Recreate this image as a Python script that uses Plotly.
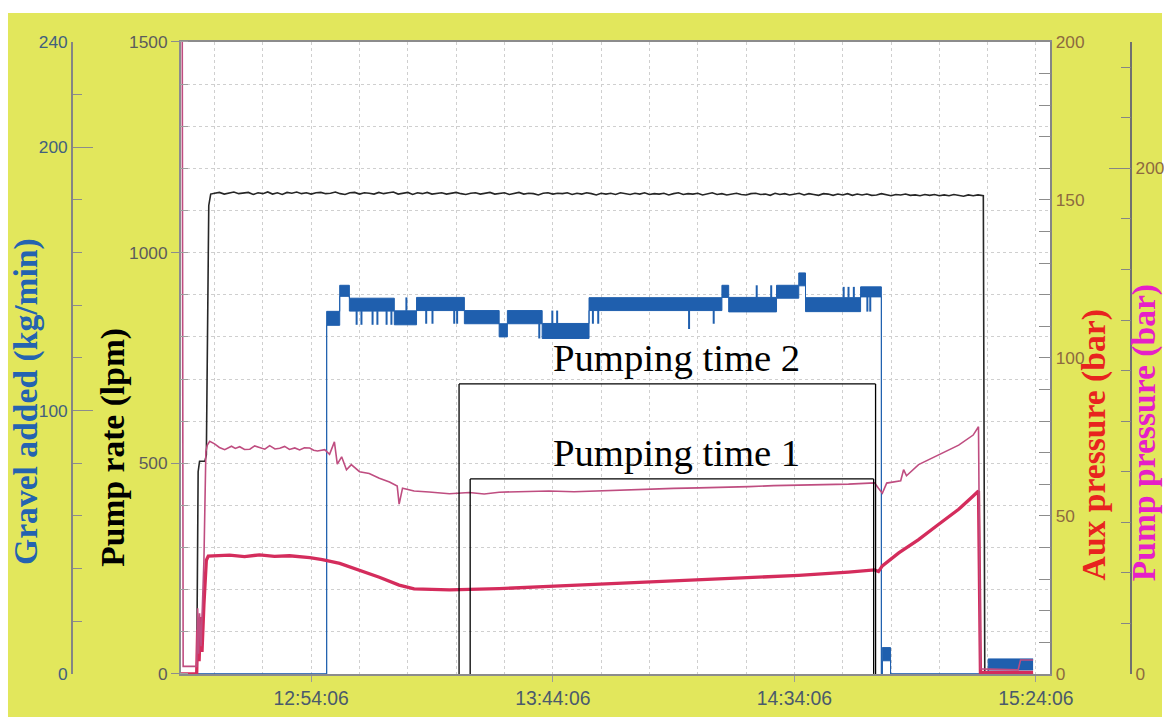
import pandas as pd
import plotly.graph_objects as go

# Clock time at the left edge of the time axis; all series times are minutes after it.
T0 = pd.Timestamp("2021-06-15 12:27:06")
SPAN_MIN = 180

# ---- Pump rate (lpm) ----
rate_t = [0, 3.3, 3.6, 3.9, 5.0, 5.3, 5.8, 6.2] + list(range(7, 166)) + [166.1, 166.4, 176.4]
rate_v = [0, 0, 480, 505, 505, 520, 1112, 1139,
          1141, 1143, 1139, 1142, 1144, 1140, 1141, 1143, 1138, 1142,
          1140, 1144, 1139, 1142, 1138, 1143, 1141, 1144, 1140, 1142,
          1139, 1142, 1143, 1140, 1141, 1144, 1140, 1138, 1142, 1143,
          1139, 1142, 1141, 1139, 1143, 1140, 1142, 1144, 1139, 1141,
          1143, 1138, 1142, 1140, 1143, 1139, 1141, 1142, 1139, 1141,
          1143, 1140, 1138, 1141, 1142, 1139, 1141, 1143, 1139, 1140,
          1142, 1138, 1141, 1143, 1139, 1141, 1140, 1137, 1141, 1142,
          1139, 1141, 1140, 1142, 1138, 1141, 1139, 1142, 1140, 1137,
          1141, 1139, 1141, 1138, 1142, 1140, 1138, 1141, 1139, 1142,
          1138, 1140, 1139, 1141, 1137, 1140, 1142, 1138, 1140, 1139,
          1141, 1137, 1140, 1142, 1138, 1140, 1137, 1139, 1141, 1138,
          1137, 1140, 1141, 1138, 1139, 1136, 1141, 1138, 1140, 1137,
          1139, 1141, 1137, 1140, 1138, 1136, 1140, 1139, 1136, 1139,
          1137, 1140, 1136, 1139, 1137, 1139, 1136, 1137, 1140, 1137,
          1135, 1138, 1137, 1139, 1136, 1137, 1135, 1138, 1136, 1138,
          1135, 1137, 1135, 1138, 1136, 1134, 1137, 1135, 1137,
          1135, 0, 0]

# ---- Gravel added (kg/min): step signal toggling between two levels ----
gravel_t = [0, 30.2, 32.9, 34.9, 44.2, 48.8, 58.7, 65.9, 67.6, 74.8, 84.5, 112.0,
            113.4, 123.3, 127.9, 129.3, 140.7, 145.0, 145.2, 146.9, 167.1, 176.4]
gravel_hi = [0, 137.7, 147.6, 142.7, 137.9, 143.0, 138.0, 133.0, 138.0, 133.1, 142.9, 147.6,
             143.0, 147.6, 152.3, 142.9, 147.0, 0, 10.0, 0, 5.7, 5.7]
gravel_lo = [0, 132.4, 143.4, 137.8, 132.6, 138.0, 133.0, 128.0, 133.0, 127.4, 138.0, 143.0,
             137.5, 142.7, 147.4, 137.6, 143.2, 0, 5.0, 0, 1.5, 1.5]
# Brief excursions of the gravel signal to the neighbouring level
gravel_spike_t = [36.4, 37.4, 39.7, 40.7, 42.6, 43.6, 46.7, 50.8, 52.1, 56.6, 57.2,
                  74.2, 76.9, 77.9, 85.3, 86.4, 105.2, 110.3, 119.2, 122.2,
                  137.2, 138.2, 139.3, 142.1, 142.7]
gravel_spike_from = [137.8, 137.8, 137.8, 137.8, 137.8, 137.8, 137.9, 138.0, 138.0, 138.0, 138.0,
                     133.0, 133.1, 133.1, 138.0, 138.0, 138.0, 138.0, 143.0, 143.0,
                     142.9, 142.9, 142.9, 143.2, 143.2]
gravel_spike_to = [132.6, 132.6, 132.6, 132.6, 132.6, 132.6, 143.0, 133.0, 133.0, 133.0, 133.0,
                   127.4, 138.0, 138.0, 133.0, 133.0, 131.0, 133.0, 147.6, 147.6,
                   147.0, 147.0, 147.0, 137.6, 137.6]

# ---- Pump pressure (bar) ----
pump_p_t = [0, 0.3, 0.5, 3.3, 3.5, 3.7, 3.9, 4.2, 4.5, 4.8, 5.2, 5.5, 6.0, 7.0,
            8.0, 9.1, 10.5, 11.3, 12.2, 13.2, 14.3, 15.3, 16.3, 17.4, 18.4, 19.5,
            20.5, 21.5, 22.5, 23.6, 24.6, 25.6, 26.7, 27.5, 28.3, 29.8, 30.8, 31.8,
            32.4, 33.3, 34.3, 35.3, 37.0, 39.0, 41.1, 43.2, 44.8, 45.2, 45.9, 48.3,
            51.4, 55.6, 59.7, 62.8, 65.9, 71.1, 76.2, 81.4, 86.6, 91.7, 96.9, 102.0,
            107.2, 112.4, 117.6, 122.7, 127.9, 133.0, 138.2, 141.0, 143.6, 144.4,
            145.2, 146.1, 149.0, 149.6, 150.2, 152.7, 156.8, 161.0, 164.0, 165.1,
            165.5, 173.3, 173.8, 176.4]
pump_p_v = [270, 270, 3, 3, 26, 8, 24, 11, 28, 45, 88, 90.5, 92.0, 91.0,
            89.6, 88.7, 90.1, 89.2, 89.9, 88.8, 88.9, 90.2, 89.6, 88.9, 90.3, 89.0,
            89.3, 90.0, 88.8, 89.4, 88.6, 89.5, 89.4, 88.5, 88.2, 88.7, 86.9, 91.8,
            83.0, 85.9, 80.8, 82.8, 80.0, 79.3, 77.4, 75.9, 74.3, 67.2, 73.5, 72.4,
            72.0, 71.3, 71.8, 71.2, 71.9, 72.2, 72.4, 72.1, 72.5, 72.9, 73.1, 73.4,
            73.6, 73.8, 74.1, 74.5, 74.6, 74.9, 75.1, 75.4, 75.6, 73.5,
            71.5, 75.5, 76.4, 80.8, 78.4, 82.8, 86.5, 90.5, 94.5, 97.8,
            2.0, 1.6, 5.5, 5.5]

# ---- Aux pressure (bar) ----
aux_p_t = [0, 3.3, 3.5, 3.8, 4.1, 4.4, 4.8, 5.3, 5.7, 10.1, 13.2, 16.3, 19.4, 22.5,
           26.7, 29.3, 32.9, 37.0, 41.1, 45.2, 48.3, 55.6, 65.9, 76.2, 86.6, 96.9,
           107.2, 117.6, 127.9, 138.2, 143.6, 144.4, 145.2, 148.6, 152.7, 156.8,
           161.0, 164.0, 165.1, 165.5, 176.4]
aux_p_v = [0, 0, 14, 4, 18, 7, 22, 36, 37.3, 37.6, 37.1, 37.7, 37.2, 37.4,
           36.8, 36.2, 35.0, 32.8, 30.6, 28.1, 26.9, 26.6, 27.0, 27.7, 28.4, 29.1,
           29.8, 30.5, 31.2, 32.2, 32.9, 32.4, 34.2, 38.3, 42.5, 47.3,
           52.1, 56.3, 57.9, 0.5, 0.5]

# ---- Axis ticks ----
time_labels = ["12:54:06", "13:44:06", "14:34:06", "15:24:06"]
rate_ticks = [0, 500, 1000, 1500]
gravel_ticks = [0, 100, 200, 240]
aux_ticks = [0, 50, 100, 150, 200]
pump_p_ticks = [0, 200]

# ---- Marked pumping intervals (minutes after T0) ----
pumping_2 = (57.6, 143.8)
pumping_1 = (59.9, 143.4)


def clock(minutes):
    return [T0 + pd.Timedelta(minutes=float(m)) for m in minutes]


def at_time(hhmmss):
    return pd.Timestamp(f"{T0.date()} {hhmmss}")


# Layout is specified in window pixels (1164 x 727). The canvas is a little
# larger than the window and starts slightly above it, so positions are mapped
# through this small scale/offset before being handed to plotly.
WIN_W, WIN_H = 1164, 727
SCALE_X, SCALE_Y, TOP_OFFSET = 0.982, 0.973, 9
W = round(WIN_W / SCALE_X)
H = round((WIN_H - TOP_OFFSET) / SCALE_Y)
FS = 1 / SCALE_X  # font-size compensation


def px(x):
    """Window x pixel -> paper fraction."""
    return (x / SCALE_X) / W


def py(y):
    """Window y pixel -> paper fraction."""
    return 1 - ((y - TOP_OFFSET) / SCALE_Y) / H


X_DOM = [px(181), px(1052)]
Y_DOM = [py(673), py(41)]
GRID = "#cfcfcf"
YELLOW = "#e2e75c"
BLUE = "#1f5fae"

fig = go.Figure()

fig.add_trace(go.Scatter(x=clock(rate_t), y=rate_v, mode="lines", yaxis="y",
                         line=dict(color="#262626", width=1.6), name="Pump rate"))

fig.add_trace(go.Scatter(x=clock(gravel_t), y=gravel_lo, mode="lines", yaxis="y2",
                         line=dict(color=BLUE, width=1, shape="hv"), name="Gravel lo",
                         showlegend=False))
fig.add_trace(go.Scatter(x=clock(gravel_t), y=gravel_hi, mode="lines", yaxis="y2",
                         line=dict(color=BLUE, width=1, shape="hv"), fill="tonexty",
                         fillcolor=BLUE, name="Gravel added"))

spike_x, spike_y = [], []
for t, a, b in zip(gravel_spike_t, gravel_spike_from, gravel_spike_to):
    tt = clock([t])[0]
    spike_x += [tt, tt, None]
    spike_y += [a, b, None]
fig.add_trace(go.Scatter(x=spike_x, y=spike_y, mode="lines", yaxis="y2",
                         line=dict(color=BLUE, width=2), connectgaps=False,
                         name="Gravel spikes", showlegend=False))

fig.add_trace(go.Scatter(x=clock(pump_p_t), y=pump_p_v, mode="lines", yaxis="y4",
                         line=dict(color="#bf4d80", width=1.6), name="Pump pressure"))
fig.add_trace(go.Scatter(x=clock(aux_p_t), y=aux_p_v, mode="lines", yaxis="y3",
                         line=dict(color="#d42c5c", width=3.3), name="Aux pressure"))

x_range = [T0, T0 + pd.Timedelta(minutes=SPAN_MIN)]
tick_font = dict(family="Liberation Sans, Arial, sans-serif", size=17 * FS)

fig.update_layout(
    width=W, height=H,
    margin=dict(l=0, r=0, t=0, b=0),
    paper_bgcolor="white",
    plot_bgcolor="white",
    showlegend=False,
    xaxis=dict(
        domain=X_DOM, range=x_range, type="date",
        tickmode="array", tickvals=[at_time(s) for s in time_labels], ticktext=time_labels,
        tickfont=dict(tick_font, size=19 * FS, color="#4a5a6c"),
        ticks="outside", ticklen=6, tickcolor="#9a9a9a",
        showgrid=True, gridcolor=GRID, griddash="dot", gridwidth=1,
        minor=dict(dtick=600000, tick0=at_time(time_labels[0]), showgrid=True,
                   gridcolor=GRID, griddash="dot", ticks=""),
        showline=True, linecolor="#8c8c8c", linewidth=1.5, mirror=True,
        zeroline=False,
    ),
    yaxis=dict(
        domain=Y_DOM, range=[0, 1500],
        tickmode="array", tickvals=rate_ticks, ticktext=[str(v) for v in rate_ticks],
        tickfont=dict(tick_font, color="#5c5c5c"),
        ticks="outside", ticklen=8, tickcolor="#8c8c8c",
        showgrid=True, gridcolor=GRID, griddash="dot",
        minor=dict(dtick=100, showgrid=True, gridcolor=GRID, griddash="dot",
                   ticks="inside", ticklen=8, tickcolor="#a0a0a0"),
        showline=True, linecolor="#8c8c8c", linewidth=1.5,
        zeroline=False,
    ),
    yaxis2=dict(
        overlaying="y", side="left", anchor="free", position=px(72), range=[0, 240],
        tickmode="array", tickvals=gravel_ticks, ticktext=[str(v) for v in gravel_ticks],
        tickfont=dict(tick_font, color="#41607e"),
        ticks="inside", ticklen=20, tickcolor="#8c8c8c",
        minor=dict(dtick=20, ticks="inside", ticklen=9, tickcolor="#8c8c8c", showgrid=False),
        showgrid=False, zeroline=False,
        showline=True, linecolor="#858585", linewidth=1.5,
    ),
    yaxis3=dict(
        overlaying="y", side="right", anchor="x", range=[0, 200],
        tickmode="array", tickvals=aux_ticks, ticktext=[str(v) for v in aux_ticks],
        tickfont=dict(tick_font, color="#8d6a40"),
        ticks="inside", ticklen=12, tickcolor="#8c8c8c",
        minor=dict(dtick=10, ticks="inside", ticklen=12, tickcolor="#8c8c8c", showgrid=False),
        showgrid=False, zeroline=False,
        showline=True, linecolor="#858585", linewidth=1.5,
    ),
    yaxis4=dict(
        overlaying="y", side="right", anchor="free", position=px(1133), range=[0, 250],
        tickmode="array", tickvals=pump_p_ticks, ticktext=[str(v) for v in pump_p_ticks],
        tickfont=dict(tick_font, color="#8d6a40"),
        ticks="inside", ticklen=22, tickcolor="#858585",
        minor=dict(dtick=20, ticks="inside", ticklen=10, tickcolor="#858585", showgrid=False),
        showgrid=False, zeroline=False,
        showline=True, linecolor="#707070", linewidth=1.5,
    ),
)

# Yellow page behind everything
fig.add_shape(type="rect", xref="paper", yref="paper", layer="below",
              x0=px(8), x1=1.0, y0=py(716), y1=py(12),
              fillcolor=YELLOW, line=dict(width=0))
# White plotting sheet
fig.add_shape(type="rect", xref="paper", yref="paper", layer="below",
              x0=X_DOM[0], x1=X_DOM[1], y0=Y_DOM[0], y1=Y_DOM[1],
              fillcolor="white", line=dict(width=0))

# Open-bottom brackets marking the two pumping intervals
bracket_tops = {pumping_2: py(383), pumping_1: py(478)}
for (t_start, t_end), y_top in bracket_tops.items():
    xs = clock([t_start, t_end])
    line = dict(color="black", width=1.3)
    fig.add_shape(type="line", xref="x", yref="paper", x0=xs[0], x1=xs[0],
                  y0=Y_DOM[0], y1=y_top, line=line)
    fig.add_shape(type="line", xref="x", yref="paper", x0=xs[0], x1=xs[1],
                  y0=y_top, y1=y_top, line=line)
    fig.add_shape(type="line", xref="x", yref="paper", x0=xs[1], x1=xs[1],
                  y0=Y_DOM[0], y1=y_top, line=line)

serif = "Liberation Serif, Times New Roman, serif"
label_center = clock([102.5])[0]
fig.add_annotation(x=label_center, xref="x", y=py(357), yref="paper",
                   text="Pumping time 2", showarrow=False,
                   xanchor="center", yanchor="middle",
                   font=dict(family=serif, size=38 * FS, color="black"))
fig.add_annotation(x=label_center, xref="x", y=py(452), yref="paper",
                   text="Pumping time 1", showarrow=False,
                   xanchor="center", yanchor="middle",
                   font=dict(family=serif, size=38 * FS, color="black"))

# Axis titles (centred on the given point)
titles = [
    ("Gravel added (kg/min)", 26, 400, "#2463b0"),
    ("Pump rate (lpm)", 113, 446, "#000000"),
    ("Aux pressure (bar)", 1096, 444, "#e8231f"),
    ("Pump pressure (bar)", 1146, 432, "#e61fc8"),
]
for text, x_pix, y_pix, color in titles:
    fig.add_annotation(x=px(x_pix), y=py(y_pix), xref="paper", yref="paper",
                       xanchor="center", yanchor="middle",
                       text=f"<b>{text}</b>", textangle=-90, showarrow=False,
                       font=dict(family=serif, size=33 * FS, color=color))

fig.write_html("out.html")
